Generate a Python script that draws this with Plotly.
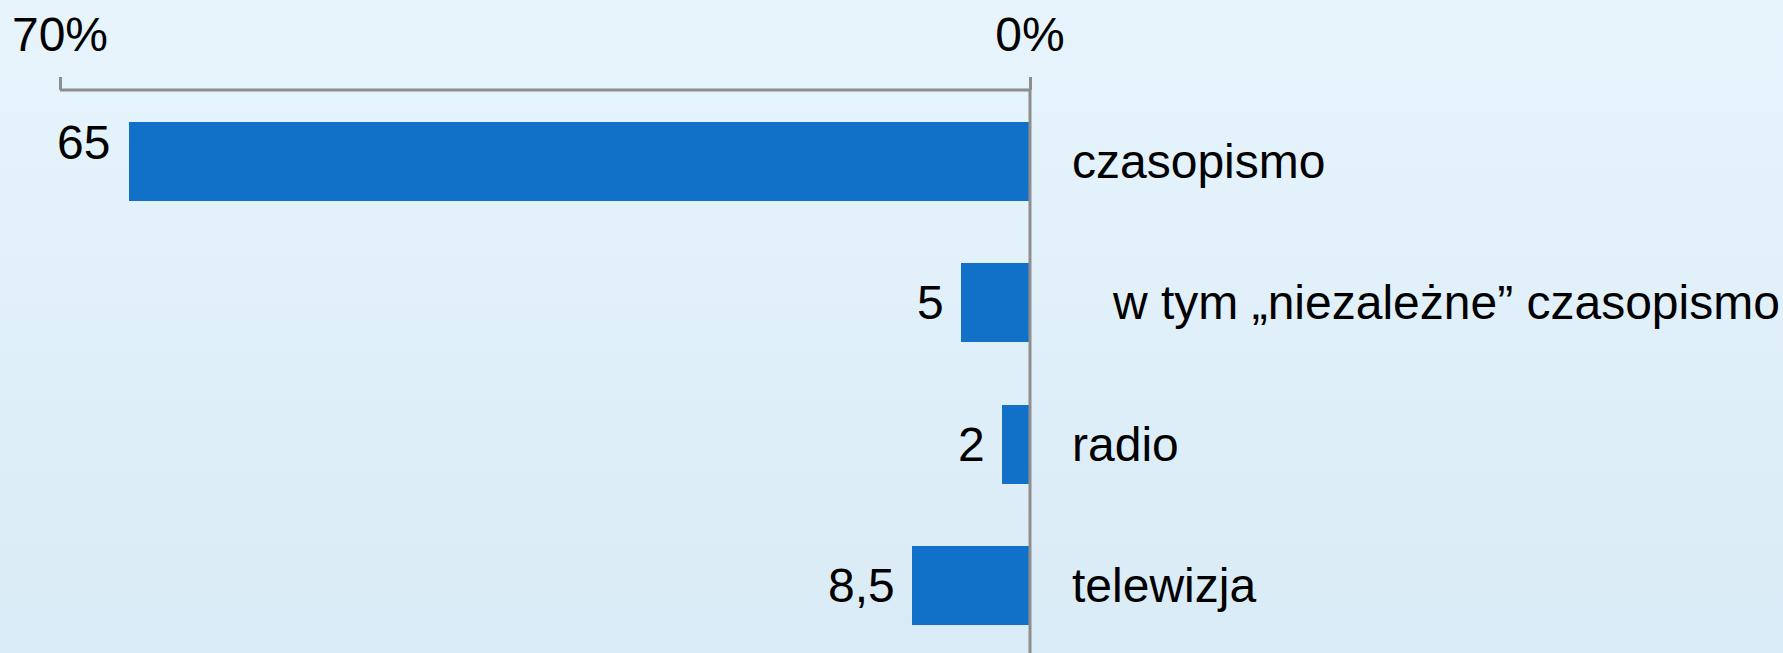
import base64
import plotly.graph_objects as go

categories = ["czasopismo", "w tym \u201eniezale\u017cne\u201d czasopismo", "radio", "telewizja"]
values = [65, 5, 2, 8.5]
value_labels = ["65", "5", "2", "8,5"]
tick_vals = [70, 0]
tick_text = ["70%", "0%"]

W, H = 1783, 653
FONT = "Liberation Sans, Arial, sans-serif"
BAR = "#1170C7"
GRAY = "#8E8E8E"

# pixel geometry -> axis ranges
px_per_unit = (1030 - 60) / 70.0
x_left = 70 + 60 / px_per_unit
x_right = 0 - (W - 1030) / px_per_unit
step = 141.3
y_top = -161.5 / step
y_bot = (H - 161.5) / step
axis_pos = 1 - 90 / H

ypos = list(range(len(categories)))

fig = go.Figure()
fig.add_trace(go.Bar(
    x=values, y=ypos, orientation="h", width=0.56,
    marker=dict(color=BAR, line=dict(width=0)),
    hoverinfo="skip", showlegend=False,
))

svg = ('<svg xmlns="http://www.w3.org/2000/svg" width="100" height="100" preserveAspectRatio="none">'
       '<defs><linearGradient id="g" x1="0" y1="0" x2="0" y2="1">'
       '<stop offset="0" stop-color="#E7F4FC"/><stop offset="1" stop-color="#D9EBF6"/>'
       '</linearGradient></defs><rect width="100" height="100" fill="url(#g)"/></svg>')
src = "data:image/svg+xml;base64," + base64.b64encode(svg.encode()).decode()

annotations = []
for i, (v, lab) in enumerate(zip(values, value_labels)):
    annotations.append(dict(
        x=v, y=i, xref="x", yref="y", text=lab, showarrow=False,
        xanchor="right", yanchor="middle", xshift=-15 if i else -17,
        yshift=19 if i == 0 else 0,
        font=dict(family=FONT, size=48, color="black"),
    ))
for i, c in enumerate(categories):
    annotations.append(dict(
        x=0, y=i, xref="x", yref="y", text=c, showarrow=False,
        xanchor="left", yanchor="middle", xshift=80 if i == 1 else 40,
        font=dict(family=FONT, size=48, color="black"),
    ))

shapes = [
    dict(type="line", xref="x", yref="paper", x0=tick_vals[0], x1=tick_vals[1],
         y0=axis_pos, y1=axis_pos, line=dict(color=GRAY, width=3)),
    dict(type="line", xref="x", yref="paper", x0=0, x1=0,
         y0=0, y1=axis_pos, line=dict(color=GRAY, width=3)),
]

fig.update_layout(
    width=W, height=H,
    margin=dict(l=0, r=0, t=0, b=0),
    paper_bgcolor="#E0F0F9",
    plot_bgcolor="rgba(0,0,0,0)",
    images=[dict(source=src, xref="paper", yref="paper", x=0, y=1, sizex=1, sizey=1,
                 xanchor="left", yanchor="top", sizing="stretch", layer="below")],
    xaxis=dict(range=[x_left, x_right], side="top", anchor="free", position=axis_pos,
               tickvals=tick_vals, ticktext=tick_text, ticks="outside", ticklen=13,
               tickwidth=3, tickcolor=GRAY, showgrid=False, zeroline=False, showline=False,
               ticklabelstandoff=7,
               tickfont=dict(family=FONT, size=48, color="black"), fixedrange=True),
    yaxis=dict(range=[y_bot, y_top], visible=False, fixedrange=True),
    annotations=annotations,
    shapes=shapes,
    bargap=0,
)

fig.write_html("out.html", config={"displayModeBar": False},
               post_script="document.body.style.margin='0';document.body.style.overflow='hidden';")
